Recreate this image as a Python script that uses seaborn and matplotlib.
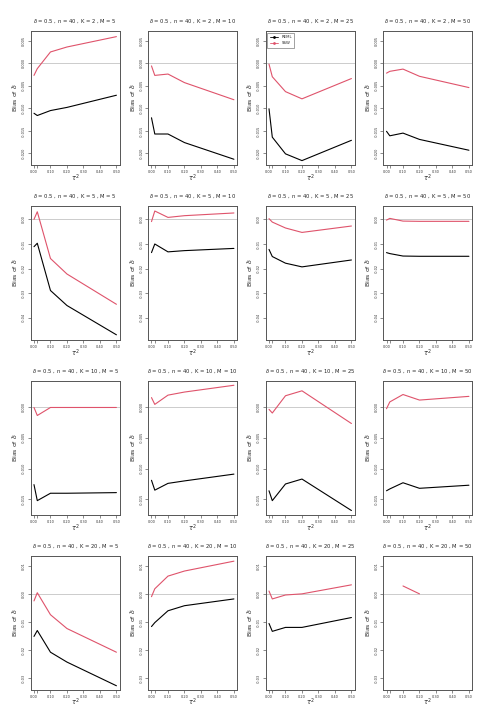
import numpy as np
import pandas as pd
import matplotlib
matplotlib.use("Agg")
import matplotlib.pyplot as plt
import seaborn as sns
from matplotlib.lines import Line2D
from matplotlib.ticker import FormatStrFormatter

# tau^2 grid
tau2 = [0.0, 0.02, 0.1, 0.2, 0.5]
K_vals = [2, 5, 10, 20]
M_vals = [5, 10, 25, 50]

# bias of delta-hat, one list per M (M = 5, 10, 25, 50)
reml_K2 = [[-0.0111, -0.0116, -0.0105, -0.0098, -0.0071],
           [-0.0121, -0.0157, -0.0157, -0.0176, -0.0213],
           [-0.0101, -0.0164, -0.0201, -0.0216, -0.0171],
           [-0.0151, -0.0161, -0.0155, -0.0169, -0.0193]]
ssw_K2 = [[-0.0027, -0.0012, 0.0025, 0.0036, 0.0059],
          [-0.0006, -0.0027, -0.0024, -0.0043, -0.0081],
          [-0.0002, -0.0030, -0.0063, -0.0079, -0.0034],
          [-0.0022, -0.0018, -0.0013, -0.0029, -0.0054]]

reml_K5 = [[-0.0111, -0.0097, -0.0289, -0.0350, -0.0469],
           [-0.0135, -0.0100, -0.0132, -0.0127, -0.0118],
           [-0.0122, -0.0151, -0.0178, -0.0193, -0.0165],
           [-0.0135, -0.0139, -0.0149, -0.0150, -0.0150]]
ssw_K5 = [[0.0000, 0.0031, -0.0159, -0.0222, -0.0345],
          [-0.0009, 0.0034, 0.0008, 0.0015, 0.0026],
          [0.0003, -0.0011, -0.0035, -0.0053, -0.0027],
          [-0.0003, 0.0004, -0.0007, -0.0008, -0.0008]]

reml_K10 = [[-0.0126, -0.0152, -0.0140, -0.0140, -0.0139],
            [-0.0119, -0.0135, -0.0124, -0.0120, -0.0109],
            [-0.0136, -0.0152, -0.0125, -0.0117, -0.0168],
            [-0.0136, -0.0133, -0.0123, -0.0132, -0.0127]]
ssw_K10 = [[-0.0001, -0.0014, -0.0001, -0.0001, -0.0001],
           [0.0015, 0.0004, 0.0019, 0.0024, 0.0035],
           [-0.0004, -0.0010, 0.0018, 0.0026, -0.0027],
           [-0.0003, 0.0008, 0.0020, 0.0011, 0.0017]]

reml_K20 = [[-0.0151, -0.0130, -0.0207, -0.0242, -0.0326],
            [-0.0116, -0.0102, -0.0060, -0.0042, -0.0018],
            [-0.0105, -0.0133, -0.0119, -0.0119, -0.0084],
            [np.nan, np.nan, np.nan, np.nan, np.nan]]
ssw_K20 = [[-0.0025, 0.0004, -0.0074, -0.0123, -0.0207],
           [-0.0010, 0.0018, 0.0063, 0.0081, 0.0116],
           [0.0010, -0.0018, -0.0004, 0.0000, 0.0032],
           [np.nan, np.nan, 0.0028, 0.0000, np.nan]]

reml = {2: reml_K2, 5: reml_K5, 10: reml_K10, 20: reml_K20}
ssw = {2: ssw_K2, 5: ssw_K5, 10: ssw_K10, 20: ssw_K20}

# y axis per row (K)
row_ticks = {2: [-0.020, -0.015, -0.010, -0.005, 0.0, 0.005],
             5: [-0.04, -0.03, -0.02, -0.01, 0.0],
             10: [-0.015, -0.010, -0.005, 0.0],
             20: [-0.03, -0.02, -0.01, 0.0, 0.01]}
row_lims = {2: (-0.0226, 0.0071), 5: (-0.049, 0.0054),
            10: (-0.0175, 0.0042), 20: (-0.034, 0.0135)}
row_fmt = {2: '%.3f', 5: '%.2f', 10: '%.3f', 20: '%.2f'}

rows = []
for K in K_vals:
    for j, M in enumerate(M_vals):
        for t, r, s in zip(tau2, reml[K][j], ssw[K][j]):
            rows.append({'K': K, 'M': M, 'tau2': t, 'method': 'REML', 'bias': r})
            rows.append({'K': K, 'M': M, 'tau2': t, 'method': 'SSW', 'bias': s})
df = pd.DataFrame(rows)

sns.set_style('white')
plt.rcParams['font.family'] = ['DejaVu Sans']
palette = {'REML': '#000000', 'SSW': '#DF536B'}

fig, axes = plt.subplots(4, 4, figsize=(4.95, 7.26), dpi=100)
fig.subplots_adjust(left=0.062, right=0.954, top=0.957, bottom=0.05,
                    wspace=0.32, hspace=0.306)

for i, K in enumerate(K_vals):
    for j, M in enumerate(M_vals):
        ax = axes[i, j]
        sub = df[(df.K == K) & (df.M == M)]
        ax.axhline(0, color='#cccccc', lw=0.7, zorder=1)
        for meth in ['REML', 'SSW']:
            d = sub[sub.method == meth]
            if d['bias'].notna().sum() > 0:
                sns.lineplot(data=d, x='tau2', y='bias', color=palette[meth],
                             lw=0.8, ax=ax, estimator=None, sort=False, zorder=3)
        ax.set_xlim(-0.02, 0.52)
        ax.set_ylim(*row_lims[K])
        ax.set_xticks([0.0, 0.02, 0.1, 0.2, 0.3, 0.4, 0.5])
        ax.set_xticklabels(['0.00', '', '0.10', '0.20', '0.30', '0.40', '0.50'])
        ax.set_yticks(row_ticks[K])
        ax.yaxis.set_major_formatter(FormatStrFormatter(row_fmt[K]))
        ax.tick_params(axis='both', labelsize=2.5, length=2, width=0.4,
                       direction='out', pad=1.5, colors='#333333',
                       bottom=True, left=True)
        for lab in ax.get_yticklabels():
            lab.set_rotation(90)
            lab.set_va('center')
        for sp in ax.spines.values():
            sp.set_color('#555555')
            sp.set_linewidth(0.7)
        ax.set_title(r'$\delta$ = 0.5 , n = 40 , K = %d , M = %d' % (K, M),
                     fontsize=3.8, pad=6)
        ax.set_xlabel(r'$\tau^2$', fontsize=4.8, labelpad=-1)
        ax.set_ylabel(r'Bias of $\hat{\delta}$', fontsize=4.5, labelpad=1)
        if ax.get_legend() is not None:
            ax.get_legend().remove()

handles = [Line2D([0], [0], color='#000000', lw=0.6, marker='o', ms=1),
           Line2D([0], [0], color='#DF536B', lw=0.6, marker='o', ms=1)]
axes[0, 2].legend(handles, ['REML', 'SSW'], loc='upper left', fontsize=2.8,
                  frameon=True, fancybox=False, edgecolor='#333333',
                  handlelength=2.2, borderpad=0.6, labelspacing=0.6,
                  borderaxespad=0.4).get_frame().set_linewidth(0.4)

fig.savefig('out.png', dpi=100)
